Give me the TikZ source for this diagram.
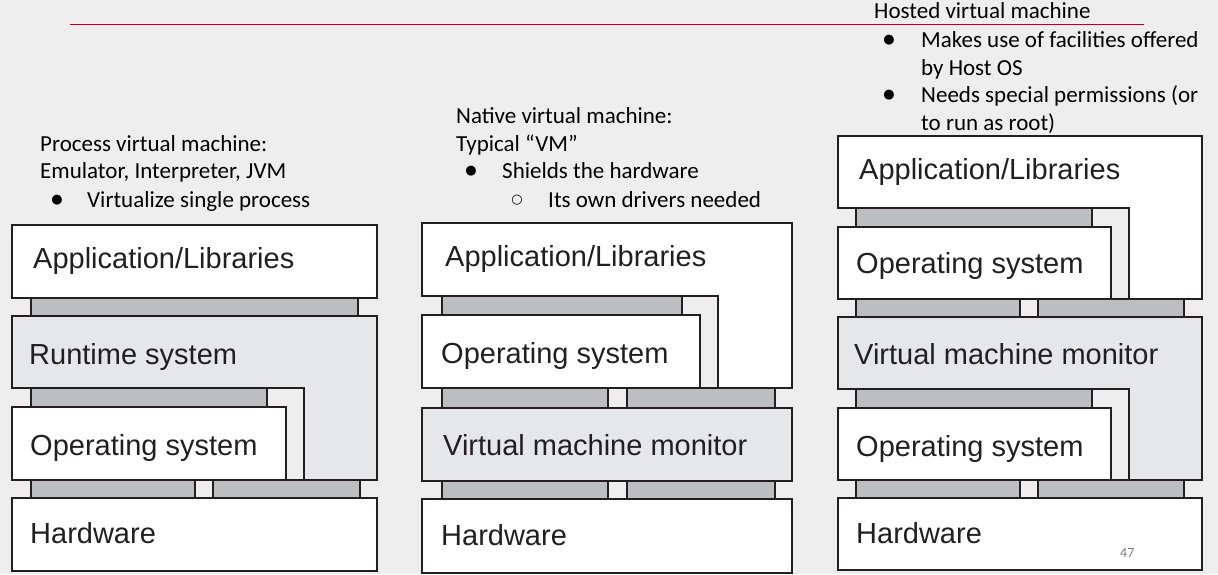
\documentclass[tikz,border=0pt]{standalone}
\usepackage{fontspec}
\setmainfont{Liberation Sans}
\newfontfamily\notefont{Carlito}
\newfontfamily\symfont{DejaVu Sans}
\usepackage{tikz}
\usetikzlibrary{positioning}

\definecolor{slidebg}{HTML}{EEEEEE}
\definecolor{edge}{HTML}{231F20}
\definecolor{layergray}{HTML}{E6E7E8}
\definecolor{bargray}{HTML}{BCBEC0}
\definecolor{rulered}{RGB}{140,20,50}

\begin{document}
\begin{tikzpicture}[x=1pt, y=-1pt,
    layer/.style={draw=edge, line width=1.4pt, fill=white},
    vlayer/.style={layer, fill=layergray},
    bar/.style={draw=edge, line width=1.2pt, fill=bargray},
    lbl/.style={anchor=base west, inner sep=0pt, text=edge, font=\fontsize{29}{34}\selectfont},
    note/.style={anchor=base west, inner sep=0pt, font=\notefont\fontsize{23}{27.5}\selectfont},
    dot/.style={inner sep=0pt, font=\symfont\fontsize{13}{13}\selectfont}]
    \useasboundingbox[fill=slidebg] (0,0) rectangle (1218,574);
    \draw[rulered, line width=1.5pt] (70,24.5) -- (1144,24.5);

    % process virtual machine
    \node[note] (pvm) at (40,151) {Process virtual machine:};
    \node[note] (pvm2) at (40,178) {Emulator, Interpreter, JVM};
    \node[dot] (pvmb) at (57,200) {●};
    \node[note] (pvmi) at (87,207) {Virtualize single process};
    \draw[bar] (31,298) rectangle (358,316);
    \draw[bar] (31,388) rectangle (267,407);
    \draw[bar] (31,480) rectangle (195,498);
    \draw[bar] (213,480) rectangle (360,498);
    \draw[layer] (12,225) rectangle (377,298);
    \draw[vlayer] (12,316) -| (377,480) -| (304,388) -- (12,388) -- cycle;
    \draw[layer] (12,407) rectangle (286,480);
    \draw[layer] (12,498) rectangle (377,571);
    \node[lbl] (app1) at (33,268) {Application/Libraries};
    \node[lbl] (rt1) at (29,364) {Runtime system};
    \node[lbl] (os1) at (30,455) {Operating system};
    \node[lbl] (hw1) at (30,543) {Hardware};

    % native virtual machine
    \node[note] (nvm) at (456,123) {Native virtual machine:};
    \node[note] (nvm2) at (456,151) {Typical “VM”};
    \node[dot] (nvmb) at (471,171) {●};
    \node[note] (nvmi) at (502,178) {Shields the hardware};
    \node[dot] (nvmc) at (517,200) {○};
    \node[note] (nvmj) at (548,207) {Its own drivers needed};
    \draw[bar] (442,296) rectangle (682,315);
    \draw[bar] (442,388) rectangle (608,408);
    \draw[bar] (627,388) rectangle (775,408);
    \draw[bar] (442,481) rectangle (608,499);
    \draw[bar] (627,481) rectangle (775,499);
    \draw[layer] (422,223) -| (792,388) -| (718,296) -- (422,296) -- cycle;
    \draw[layer] (422,315) rectangle (700,388);
    \draw[vlayer] (422,408) rectangle (792,481);
    \draw[layer] (422,499) rectangle (792,573);
    \node[lbl] (app2) at (445,266) {Application/Libraries};
    \node[lbl] (os2) at (441,363) {Operating system};
    \node[lbl] (vmm2) at (443,455) {Virtual machine monitor};
    \node[lbl] (hw2) at (441,545) {Hardware};

    % hosted virtual machine
    \node[note] (hvm) at (874,18) {Hosted virtual machine};
    \node[dot] (hvmb) at (889,40) {●};
    \node[note] (hvmi) at (921,47) {Makes use of facilities offered};
    \node[note] (hvmi2) at (921,75) {by Host OS};
    \node[dot] (hvmc) at (889,95) {●};
    \node[note] (hvmj) at (921,102) {Needs special permissions (or};
    \node[note] (hvmj2) at (921,130) {to run as root)};
    \draw[bar] (856,208) rectangle (1092,227);
    \draw[bar] (856,299) rectangle (1020,317);
    \draw[bar] (1038,299) rectangle (1184,317);
    \draw[bar] (856,389) rectangle (1092,408);
    \draw[bar] (856,480) rectangle (1020,498);
    \draw[bar] (1038,480) rectangle (1184,498);
    \draw[layer] (838,136) -| (1202,299) -| (1129,208) -- (838,208) -- cycle;
    \draw[layer] (838,227) rectangle (1111,299);
    \draw[vlayer] (838,317) -| (1202,480) -| (1129,389) -- (838,389) -- cycle;
    \draw[layer] (838,408) rectangle (1111,480);
    \draw[layer] (838,498) rectangle (1202,570);
    \node[lbl] (app3) at (859,179) {Application/Libraries};
    \node[lbl] (os3a) at (856,273) {Operating system};
    \node[lbl] (vmm3) at (854,364) {Virtual machine monitor};
    \node[lbl] (os3b) at (856,456) {Operating system};
    \node[lbl] (hw3) at (856,543) {Hardware};
    \node[anchor=base west, inner sep=0pt, text=gray, font=\notefont\fontsize{14}{14}\selectfont] (pgno) at (1120,557) {47};
\end{tikzpicture}
\end{document}
